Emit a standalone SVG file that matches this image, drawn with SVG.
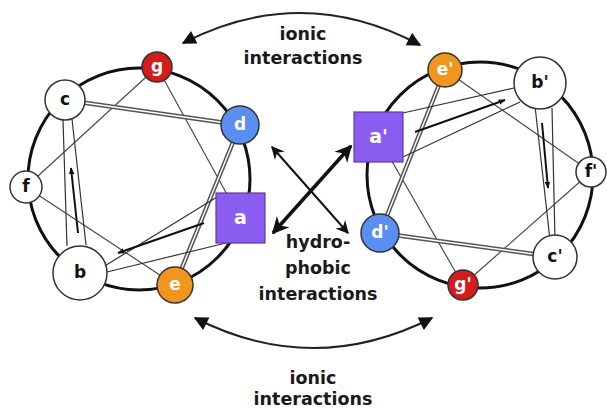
<svg xmlns="http://www.w3.org/2000/svg" width="607" height="410" viewBox="0 0 607 410">
<style>
.wheel{fill:none;stroke:#111;stroke-width:3}
.thin{stroke:#4a4a4a;stroke-width:1.2;fill:none}
.dblo{stroke:#555;stroke-width:4.5;fill:none}
.dbli{stroke:#fff;stroke-width:1.4;fill:none}
.wedge{stroke:#333;stroke-width:1.2;fill:none}
.warrow{stroke:#111;stroke-width:2;fill:none}
.node{stroke:#333;stroke-width:1.5}
.white{fill:#fff}
.red{fill:#d41c1c}
.blue{fill:#5a8ef0}
.orange{fill:#f0961e}
.purple{fill:#8a5cf0;stroke:#5b3aa8;stroke-width:1.2}
.lbl{font-family:"DejaVu Sans",Verdana,sans-serif;font-weight:bold;font-size:17px;text-anchor:middle;dominant-baseline:central}
.lw{fill:#fff}
.lb{fill:#111}
.cap{font-family:"DejaVu Sans",Verdana,sans-serif;font-weight:bold;font-size:17.5px;text-anchor:middle;fill:#1a1a1a}
.arc{stroke:#222;stroke-width:2;fill:none}
</style>
<defs>
<marker id="ah" viewBox="0 0 10 10" refX="9" refY="5" markerWidth="7" markerHeight="7" markerUnits="userSpaceOnUse" orient="auto-start-reverse"><path d="M0,1 L10,5 L0,9 Z" fill="#111"/></marker>
<marker id="arcH" viewBox="0 0 10 10" refX="9" refY="5" markerWidth="16" markerHeight="14" markerUnits="userSpaceOnUse" orient="auto-start-reverse"><path d="M0,0 L10,5 L0,10 Z" fill="#111"/></marker>
<marker id="thickH" viewBox="0 0 10 10" refX="9" refY="5" markerWidth="20" markerHeight="17" markerUnits="userSpaceOnUse" orient="auto-start-reverse"><path d="M0,0 L10,5 L0,10 L3,5 Z" fill="#111"/></marker>
<marker id="thinH" viewBox="0 0 10 10" refX="9" refY="5" markerWidth="15" markerHeight="13" markerUnits="userSpaceOnUse" orient="auto-start-reverse"><path d="M0,0 L10,5 L0,10 L3,5 Z" fill="#111"/></marker>
</defs>
<rect width="607" height="410" fill="#fff"/>
<circle class="wheel" cx="139" cy="179" r="111"/>
<circle class="wheel" cx="480" cy="175" r="113"/>
<g id="connectors">
<line class="thin" x1="26" y1="187" x2="157" y2="67"/>
<line class="thin" x1="157" y1="67" x2="240" y2="218"/>
<line class="thin" x1="175" y1="285" x2="26" y2="187"/>
<line class="dblo" x1="240" y1="125" x2="175" y2="285"/>
<line class="dbli" x1="240" y1="125" x2="175" y2="285"/>
<line class="dblo" x1="65" y1="100" x2="240" y2="125"/>
<line class="dbli" x1="65" y1="100" x2="240" y2="125"/>
<line class="wedge" x1="217" y1="197" x2="103" y2="267"/>
<line class="wedge" x1="230" y1="242" x2="107" y2="272"/>
<line class="warrow" x1="204" y1="223" x2="118" y2="253" marker-end="url(#ah)"/>
<line class="wedge" x1="63" y1="120" x2="67" y2="246"/>
<line class="wedge" x1="72" y1="119" x2="86" y2="245"/>
<line class="warrow" x1="78" y1="233" x2="71" y2="168" marker-end="url(#ah)"/>
<line class="thin" x1="445" y1="70" x2="591" y2="172"/>
<line class="thin" x1="591" y1="172" x2="463" y2="285"/>
<line class="thin" x1="463" y1="285" x2="378" y2="137"/>
<line class="dblo" x1="380" y1="233" x2="445" y2="70"/>
<line class="dbli" x1="380" y1="233" x2="445" y2="70"/>
<line class="dblo" x1="555" y1="257" x2="380" y2="233"/>
<line class="dbli" x1="555" y1="257" x2="380" y2="233"/>
<line class="wedge" x1="403" y1="113" x2="514" y2="88"/>
<line class="wedge" x1="403" y1="157" x2="520" y2="102"/>
<line class="warrow" x1="415" y1="132" x2="505" y2="100" marker-end="url(#ah)"/>
<line class="wedge" x1="535" y1="106" x2="550" y2="240"/>
<line class="wedge" x1="552" y1="108" x2="555" y2="240"/>
<line class="warrow" x1="542" y1="123" x2="548" y2="188" marker-end="url(#ah)"/>
<path class="arc" d="M183,43 Q302,-18 420,45" marker-start="url(#arcH)" marker-end="url(#arcH)"/>
<path class="arc" d="M195,318 Q313,378 432,318" marker-start="url(#arcH)" marker-end="url(#arcH)"/>
<line stroke="#111" stroke-width="3.5" x1="273" y1="233" x2="351" y2="146" marker-start="url(#thickH)" marker-end="url(#thickH)"/>
<line stroke="#111" stroke-width="2" x1="272" y1="147" x2="348" y2="233" marker-start="url(#thinH)" marker-end="url(#thinH)"/>
</g>
<g id="node-g"><circle class="node red" cx="157" cy="67" r="15"/><text class="lbl lw" x="157" y="66">g</text></g>
<g id="node-c"><circle class="node white" cx="65" cy="100" r="20"/><text class="lbl lb" x="65" y="99">c</text></g>
<g id="node-d"><circle class="node blue" cx="240" cy="125" r="19"/><text class="lbl lw" x="240" y="124">d</text></g>
<g id="node-f"><circle class="node white" cx="26" cy="187" r="16"/><text class="lbl lb" x="26" y="186">f</text></g>
<g id="node-b"><circle class="node white" cx="80" cy="273" r="27"/><text class="lbl lb" x="80" y="272">b</text></g>
<g id="node-e"><circle class="node orange" cx="175" cy="285" r="18"/><text class="lbl lw" x="175" y="284">e</text></g>
<g id="node-a"><rect class="purple" x="216" y="193" width="49" height="50"/><text class="lbl lw" x="240.5" y="217" style="font-size:19px">a</text></g>
<g id="node-e2"><circle class="node orange" cx="445" cy="70" r="17"/><text class="lbl lw" x="445" y="69">e'</text></g>
<g id="node-b2"><circle class="node white" cx="540" cy="83" r="26"/><text class="lbl lb" x="540" y="82">b'</text></g>
<g id="node-f2"><circle class="node white" cx="591" cy="172" r="15"/><text class="lbl lb" x="591" y="171">f'</text></g>
<g id="node-c2"><circle class="node white" cx="555" cy="257" r="22"/><text class="lbl lb" x="555" y="256">c'</text></g>
<g id="node-g2"><circle class="node red" cx="463" cy="285" r="15"/><text class="lbl lw" x="463" y="284">g'</text></g>
<g id="node-d2"><circle class="node blue" cx="380" cy="233" r="19"/><text class="lbl lw" x="380" y="232">d'</text></g>
<g id="node-a2"><rect class="purple" x="354" y="112" width="49" height="50"/><text class="lbl lw" x="378.5" y="136" style="font-size:19px">a'</text></g>
<g id="labels">
<text class="cap" x="303" y="40">ionic</text>
<text class="cap" x="303" y="64">interactions</text>
<text class="cap" x="318" y="248">hydro-</text>
<text class="cap" x="318" y="274">phobic</text>
<text class="cap" x="318" y="300">interactions</text>
<text class="cap" x="313" y="384">ionic</text>
<text class="cap" x="313" y="405">interactions</text>
</g>
</svg>
